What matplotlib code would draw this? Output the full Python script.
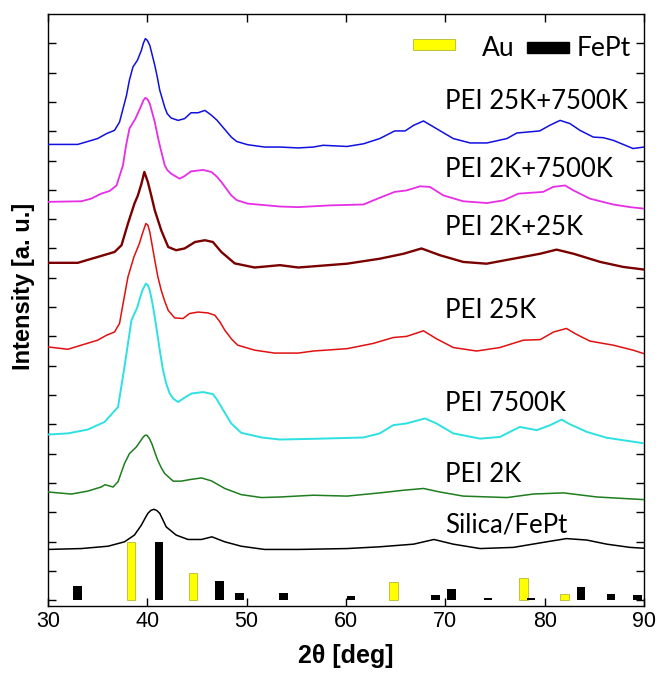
import matplotlib
matplotlib.use('Agg')
import numpy as np
import matplotlib.pyplot as plt
from matplotlib.patches import Rectangle

# XRD patterns (offset)
blue_x = [30, 33.0, 35.0, 35.9, 36.7, 37.2, 37.9, 38.2, 38.55, 39.0, 39.4, 39.6, 39.8, 40.0, 40.25, 40.75,
          41.0, 41.25, 41.75, 42.0, 42.4, 43.1, 43.75, 44.4, 45.1, 45.8, 46.4, 47.0, 47.45, 48.0, 48.45, 49.0,
          50.1, 51.8, 53.35, 55.2, 56.7, 57.7, 60.1, 61.75, 63.4, 64.9, 65.95, 66.8, 67.8, 69.1, 70.8, 72.5,
          74.2, 76.2, 77.2, 78.2, 79.5, 80.5, 81.55, 82.55, 83.55, 84.9, 85.9, 86.9, 88.9, 90]
blue_y = [15.55, 15.55, 15.75, 15.92, 16.03, 16.31, 17.22, 17.75, 18.19, 18.42, 18.76, 19.0, 19.16, 19.1,
          18.93, 18.25, 17.85, 17.4, 16.82, 16.6, 16.45, 16.37, 16.43, 16.63, 16.63, 16.71, 16.56, 16.38,
          16.2, 15.98, 15.8, 15.65, 15.54, 15.46, 15.46, 15.43, 15.46, 15.52, 15.48, 15.57, 15.75, 16.01,
          16.01, 16.2, 16.35, 16.09, 15.75, 15.6, 15.6, 15.75, 15.94, 15.97, 16.01, 16.2, 16.37, 16.26,
          16.03, 15.8, 15.78, 15.69, 15.41, 15.46]

magenta_x = [30, 33.35, 34.35, 35.35, 36.2, 36.9, 37.55, 37.85, 38.2, 38.8, 39.4, 39.6, 39.8, 40.0, 40.25,
             40.75, 41.0, 41.25, 41.75, 42.0, 42.4, 43.25, 43.75, 44.4, 45.6, 46.45, 47.0, 47.45, 48.0, 48.45,
             49.0, 50.1, 53.4, 55.2, 58.4, 61.75, 63.4, 64.9, 66.1, 67.45, 68.45, 69.8, 71.8, 74.2, 75.85,
             77.35, 78.2, 79.85, 80.85, 82.05, 82.9, 84.55, 86.9, 88.6, 90]
magenta_y = [13.59, 13.61, 13.7, 13.87, 13.96, 14.15, 14.84, 15.5, 16.09, 16.43, 16.88, 17.05, 17.14, 17.1,
             16.94, 16.31, 15.9, 15.52, 14.84, 14.68, 14.55, 14.38, 14.47, 14.63, 14.68, 14.61, 14.45, 14.27,
             14.02, 13.81, 13.65, 13.53, 13.43, 13.41, 13.47, 13.5, 13.73, 13.93, 13.98, 14.12, 14.1, 13.81,
             13.61, 13.55, 13.64, 13.87, 13.89, 13.93, 14.1, 14.15, 13.98, 13.7, 13.5, 13.41, 13.36]

darkred_x = [30, 33, 35.0, 36.7, 37.4, 38.05, 38.7, 39.05, 39.4, 39.7, 40.05, 40.4, 40.75, 41.4, 42.1, 42.9,
             43.75, 44.8, 45.8, 46.6, 47.45, 48.8, 50.8, 53.35, 55.2, 60.1, 63.4, 65.8, 67.6, 69.45, 71.8,
             74.15, 76.85, 79.55, 81.2, 82.9, 85.6, 87.9, 90]
darkred_y = [11.51, 11.51, 11.71, 11.88, 12.11, 12.85, 13.53, 13.81, 14.2, 14.61, 14.27, 13.8, 13.3, 12.62,
             12.05, 11.94, 12.0, 12.22, 12.28, 12.22, 11.88, 11.49, 11.35, 11.43, 11.35, 11.48, 11.65, 11.82,
             12.0, 11.77, 11.54, 11.48, 11.65, 11.82, 11.96, 11.82, 11.54, 11.37, 11.28]

red_x = [30, 32.0, 33.35, 35.0, 35.9, 36.7, 37.2, 37.6, 38.05, 38.65, 39.2, 39.5, 39.85, 40.05, 40.25, 40.75,
         41.05, 41.4, 41.75, 42.1, 42.75, 43.6, 44.25, 45.1, 46.1, 46.8, 47.3, 47.8, 48.5, 49.1, 50.8, 52.8,
         55.2, 56.7, 60.1, 62.75, 64.75, 66.1, 67.8, 69.1, 70.8, 73.15, 75.5, 77.85, 79.55, 80.9, 82.2, 83.2,
         84.55, 86.9, 88.9, 90]
red_y = [8.64, 8.56, 8.7, 8.87, 9.04, 9.15, 9.44, 10.2, 11.03, 11.71, 12.17, 12.5, 12.85, 12.8, 12.56, 11.6,
         11.05, 10.57, 10.2, 9.89, 9.63, 9.61, 9.78, 9.83, 9.8, 9.72, 9.5, 9.21, 8.9, 8.7, 8.53, 8.43, 8.43,
         8.5, 8.58, 8.76, 8.96, 9.0, 9.19, 8.92, 8.62, 8.5, 8.62, 8.87, 8.89, 9.15, 9.27, 9.07, 8.84, 8.7,
         8.53, 8.41]

cyan_x = [30, 32.0, 34.0, 35.7, 37.05, 37.7, 38.4, 39.0, 39.25, 39.5, 39.85, 40.05, 40.25, 40.5, 40.75, 41.0,
          41.25, 41.55, 41.9, 42.25, 42.6, 43.1, 43.75, 44.45, 45.6, 46.6, 47.0, 47.45, 48.0, 48.45, 49.45,
          51.5, 53.35, 57.4, 61.75, 63.4, 64.75, 66.1, 67.95, 69.1, 70.8, 73.5, 75.5, 77.5, 79.2, 80.55,
          81.7, 82.55, 84.25, 86.25, 88.25, 90]
cyan_y = [5.65, 5.69, 5.82, 6.08, 6.59, 7.96, 9.55, 10.0, 10.3, 10.57, 10.8, 10.75, 10.57, 10.15, 9.66, 9.1,
          8.53, 7.9, 7.39, 7.05, 6.88, 6.76, 6.91, 7.05, 7.1, 7.03, 6.85, 6.59, 6.28, 6.03, 5.71, 5.55, 5.48,
          5.51, 5.55, 5.69, 5.97, 6.03, 6.2, 6.03, 5.69, 5.51, 5.57, 5.91, 5.8, 5.97, 6.16, 6.0, 5.74, 5.54,
          5.44, 5.35]

green_x = [30, 32.35, 34.0, 35.35, 35.75, 36.55, 37.05, 37.7, 38.2, 38.9, 39.25, 39.55, 39.75, 39.95, 40.2,
           40.45, 40.75, 41.05, 41.4, 41.75, 42.6, 43.4, 44.4, 45.45, 46.45, 47.8, 49.45, 51.5, 53.35, 56.7,
           60.1, 63.4, 65.8, 67.8, 69.45, 71.8, 76.2, 78.85, 81.9, 85.25, 90]
green_y = [3.69, 3.62, 3.72, 3.86, 3.94, 3.86, 4.04, 4.66, 5.0, 5.23, 5.4, 5.55, 5.62, 5.63, 5.52, 5.34,
           5.05, 4.77, 4.52, 4.32, 4.06, 4.06, 4.12, 4.17, 4.07, 3.81, 3.6, 3.5, 3.52, 3.58, 3.55, 3.66, 3.75,
           3.81, 3.69, 3.55, 3.5, 3.62, 3.66, 3.52, 3.43]

black_x = [30, 33.35, 36.05, 37.7, 38.7, 39.4, 39.75, 40.05, 40.35, 40.65, 40.95, 41.25, 41.55, 41.9, 42.9,
           44.1, 45.45, 46.5, 47.8, 49.45, 51.8, 55.2, 60.1, 63.4, 66.8, 68.85, 70.8, 73.5, 76.85, 80.2, 82.2,
           84.25, 86.25, 88.6, 90]
black_y = [1.73, 1.76, 1.84, 1.99, 2.22, 2.56, 2.78, 2.96, 3.06, 3.1, 3.06, 2.96, 2.75, 2.5, 2.22, 2.07,
           2.07, 2.16, 1.99, 1.84, 1.73, 1.73, 1.76, 1.82, 1.91, 2.07, 1.91, 1.76, 1.8, 1.99, 2.1, 2.05,
           1.91, 1.8, 1.77]

# reference patterns
au_pos = [38.36, 44.6, 64.8, 77.85, 82.0]
au_h = [1.99, 0.94, 0.63, 0.74, 0.2]
fept_pos = [32.97, 41.2, 47.25, 49.3, 53.7, 60.5, 69.0, 70.6, 74.27, 78.6, 83.65, 86.65, 89.35]
fept_h = [0.48, 2.0, 0.64, 0.26, 0.23, 0.14, 0.16, 0.37, 0.09, 0.07, 0.45, 0.2, 0.16]

labels = ['PEI 25K+7500K', 'PEI 2K+7500K', 'PEI 2K+25K', 'PEI 25K', 'PEI 7500K', 'PEI 2K', 'Silica/FePt']
label_y = [16.75, 14.44, 12.45, 9.61, 6.46, 4.04, 2.31]

fig = plt.figure(figsize=(6.59, 6.75), dpi=100)
ax = fig.add_axes([48 / 659, 1 - 606 / 675, 596 / 659, 592 / 675])

ax.bar(au_pos, au_h, width=0.85, color='#ffff00', edgecolor='#b8b830', linewidth=0.6, zorder=2)
ax.bar(fept_pos, fept_h, width=0.85, color='black', zorder=2)

ax.plot(black_x, black_y, color='black', lw=1.1, zorder=3)
ax.plot(green_x, green_y, color='#1e7d1e', lw=1.1, zorder=3)
ax.plot(cyan_x, cyan_y, color='#2ee0e0', lw=1.4, zorder=3)
ax.plot(red_x, red_y, color='#e01010', lw=1.1, zorder=3)
ax.plot(darkred_x, darkred_y, color='#7a0000', lw=1.7, zorder=3)
ax.plot(magenta_x, magenta_y, color='#e62ee6', lw=1.3, zorder=3)
ax.plot(blue_x, blue_y, color='#1010e0', lw=1.1, zorder=3)

for txt, yy in zip(labels, label_y):
    ax.text(70.0, yy, txt, fontsize=18.5, family='Lato', va='baseline', ha='left')

# legend drawn by hand (spacing in the reference is uneven)
ax.add_patch(Rectangle((0.612, 0.939), 0.0715, 0.018, transform=ax.transAxes,
                       facecolor='#ffff00', edgecolor='#b8b830', linewidth=0.6, zorder=4))
ax.add_patch(Rectangle((0.803, 0.9336), 0.071, 0.0196, transform=ax.transAxes,
                       facecolor='black', edgecolor='black', zorder=4))
ax.text(0.7277, 0.929, 'Au', transform=ax.transAxes, fontsize=19, family='Lato', va='baseline')
ax.text(0.8876, 0.929, 'FePt', transform=ax.transAxes, fontsize=19, family='Lato', va='baseline')

ax.set_xlim(30, 90)
ax.set_ylim(-0.2, 20)
ax.set_xticks([30, 40, 50, 60, 70, 80, 90])
ax.set_yticks(np.arange(0, 20))
ax.set_yticklabels([])
ax.tick_params(direction='in', length=6, width=1, top=True, right=True, labelsize=15.5)
for lab in ax.get_xticklabels():
    lab.set_family('Liberation Sans')
for sp in ax.spines.values():
    sp.set_linewidth(1)

ax.set_xlabel('2θ [deg]', fontsize=18, fontweight='bold', family='Liberation Sans', labelpad=9)
ax.set_ylabel('Intensity [a. u.]', fontsize=17, fontweight='bold', family='Liberation Sans')
ax.yaxis.set_label_coords(-0.022, 0.54)

fig.savefig('out.png', dpi=100)
